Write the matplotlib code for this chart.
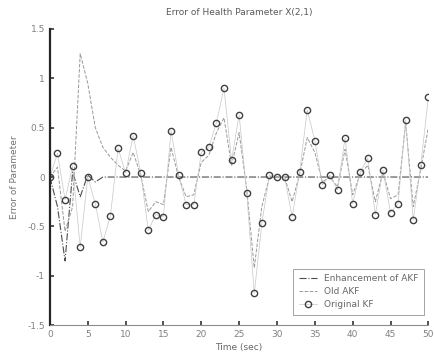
import numpy as np
import matplotlib.pyplot as plt

# time axis (sec)
t = np.arange(0, 51)

# original Kalman filter error
kf_err = [0.0, 0.24, -0.23, 0.11, -0.71, 0.0, -0.27, -0.66, -0.39, 0.29,
          0.04, 0.42, 0.04, -0.54, -0.38, -0.40, 0.47, 0.02, -0.28, -0.28,
          0.25, 0.30, 0.55, 0.90, 0.17, 0.63, -0.16, -1.18, -0.47, 0.02,
          0.0, 0.0, -0.40, 0.05, 0.68, 0.37, -0.08, 0.02, -0.13, 0.40,
          -0.27, 0.05, 0.19, -0.38, 0.07, -0.36, -0.27, 0.58, -0.44, 0.12,
          0.81]

# old adaptive KF error
old_akf_err = [0.0, 0.10, -0.55, -0.30, 1.25, 0.95, 0.50, 0.30, 0.20, 0.12,
               0.06, 0.25, 0.02, -0.35, -0.25, -0.28, 0.30, 0.0, -0.20, -0.18,
               0.15, 0.22, 0.45, 0.60, 0.12, 0.45, -0.12, -0.92, -0.30, 0.0,
               0.0, 0.0, -0.25, 0.03, 0.40, 0.25, -0.05, 0.0, -0.10, 0.28,
               -0.18, 0.03, 0.12, -0.25, 0.05, -0.22, -0.18, 0.55, -0.30, 0.08,
               0.50]

# enhanced adaptive KF error
enh_akf_err = [0.0, -0.30, -0.85, 0.05, -0.20, 0.02, -0.05, 0.0, 0.0, 0.0,
               0.0, 0.0, 0.0, 0.0, 0.0, 0.0, 0.0, 0.0, 0.0, 0.0,
               0.0, 0.0, 0.0, 0.0, 0.0, 0.0, 0.0, 0.0, 0.0, 0.0,
               0.0, 0.0, 0.0, 0.0, 0.0, 0.0, 0.0, 0.0, 0.0, 0.0,
               0.0, 0.0, 0.0, 0.0, 0.0, 0.0, 0.0, 0.0, 0.0, 0.0,
               0.0]

fig = plt.figure(figsize=(4.34, 3.58), dpi=100)
ax = fig.add_axes([0.115, 0.092, 0.872, 0.827])

ax.plot(t, enh_akf_err, '-.', color='0.3', lw=0.8, label='Enhancement of AKF')
ax.plot(t, old_akf_err, '--', color='0.6', lw=0.7, label='Old AKF')
ax.plot(t, kf_err, '-o', color='0.78', lw=0.5, markersize=4.5,
        markerfacecolor='none', markeredgecolor='0.25', markeredgewidth=1.0,
        label='Original KF')

ax.set_xlim(0, 50)
ax.set_ylim(-1.5, 1.5)
ax.set_xticks(np.arange(0, 51, 5))
ax.set_yticks([-1.5, -1, -0.5, 0, 0.5, 1, 1.5])
ax.set_yticklabels(['-1.5', '-1', '-0.5', '0', '0.5', '1', '1.5'])

for s in ['top', 'right']:
    ax.spines[s].set_visible(False)
ax.spines['left'].set_linewidth(1.6)
ax.spines['left'].set_color('0.15')
ax.spines['bottom'].set_linewidth(0.8)
ax.spines['bottom'].set_color('0.55')
ax.tick_params(direction='in', length=3, width=1.2, colors='0.2',
               labelsize=6.5, labelcolor='0.5')

ax.set_title('Error of Health Parameter X(2,1)', fontsize=6.5, color='0.35', pad=10)
ax.set_xlabel('Time (sec)', fontsize=6.5, color='0.4', labelpad=3)
ax.set_ylabel('Error of Parameter', fontsize=6.5, color='0.45', labelpad=6)

leg = ax.legend(loc='lower right', fontsize=6.5, frameon=True, fancybox=False,
                handlelength=2.0, handletextpad=0.8, borderpad=0.6,
                labelspacing=0.45, bbox_to_anchor=(1.0, 0.02))
leg.get_frame().set_edgecolor('0.55')
leg.get_frame().set_linewidth(0.7)
for txt in leg.get_texts():
    txt.set_color('0.4')

fig.savefig('out.png', dpi=100)
